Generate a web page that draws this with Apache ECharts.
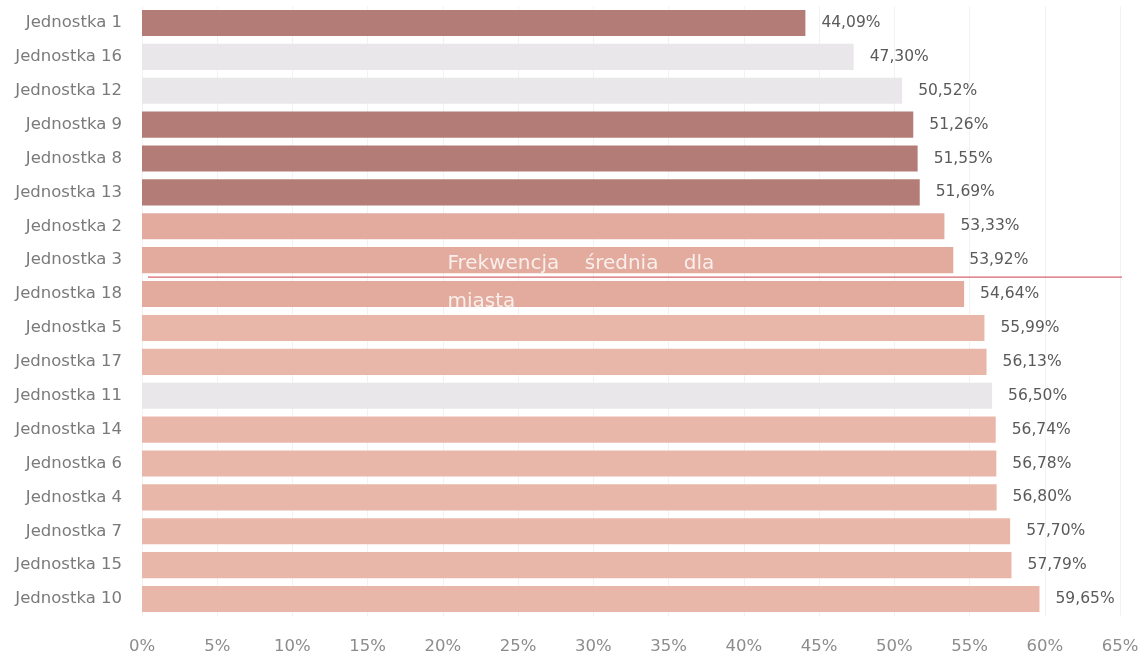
<!DOCTYPE html>
<html>
<head>
<meta charset="utf-8">
<script src="https://cdn.jsdelivr.net/npm/echarts@6/dist/echarts.min.js"></script>
<style>
html,body{margin:0;padding:0;background:#fff;}
#chart{width:1147px;height:659px;}
</style>
</head>
<body>
<div id="chart"></div>
<script>
const categories = ['Jednostka 1','Jednostka 16','Jednostka 12','Jednostka 9','Jednostka 8','Jednostka 13','Jednostka 2','Jednostka 3','Jednostka 18','Jednostka 5','Jednostka 17','Jednostka 11','Jednostka 14','Jednostka 6','Jednostka 4','Jednostka 7','Jednostka 15','Jednostka 10'];
const values = [44.09,47.30,50.52,51.26,51.55,51.69,53.33,53.92,54.64,55.99,56.13,56.50,56.74,56.78,56.80,57.70,57.79,59.65];
const groups = ['dark','gray','gray','dark','dark','dark','mid','mid','mid','light','light','gray','light','light','light','light','light','light'];
const xTicks = [0,5,10,15,20,25,30,35,40,45,50,55,60,65];
// average line drawn at the boundary between "Jednostka 3" and "Jednostka 18" (row scale 0..18)
const averageLine = [[0.4, 8], [65.6, 8]];
const averageLabel = 'Frekwencja    średnia    dla\nmiasta';
const averageLabelAt = [20.3, 8.18];

const groupColors = {dark:'#b47c76', gray:'#eae7eb', mid:'#e2ab9d', light:'#e9b7a9'};
const fmt = v => v.toFixed(2).replace('.', ',') + '%';
const FONT = 'DejaVu Sans';

const chart = echarts.init(document.getElementById('chart'), null, {renderer:'canvas'});
chart.setOption({
  animation:false,
  backgroundColor:'#fff',
  grid:{left:142, right:27, top:6, bottom:43, containLabel:false},
  xAxis:{
    type:'value', min:xTicks[0], max:xTicks[xTicks.length-1], interval:5,
    axisLine:{show:false}, axisTick:{show:false},
    splitLine:{show:true, lineStyle:{color:'#f2f2f2', width:1}},
    axisLabel:{formatter:v=>v+'%', color:'#8c8c8c', fontSize:16.5, fontFamily:FONT, margin:22}
  },
  yAxis:[{
    type:'category', data:categories, inverse:true,
    axisLine:{show:false}, axisTick:{show:false},
    axisLabel:{color:'#7a7a7a', fontSize:16.5, fontFamily:FONT, margin:20}
  },{
    type:'value', min:0, max:categories.length, inverse:true, show:false,
    splitLine:{show:false}
  }],
  series:[{
    type:'bar',
    data:values.map((v,i)=>({value:v, itemStyle:{color:groupColors[groups[i]]}})),
    barCategoryGap:'23%',
    label:{show:true, position:'right', distance:16, formatter:p=>fmt(p.value), color:'#5a5a5a', fontSize:15.5, fontFamily:FONT}
  },{
    type:'line', yAxisIndex:1, data:averageLine, symbol:'none', clip:false, silent:true,
    lineStyle:{color:'#d9646c', width:1.2}, z:5
  },{
    type:'scatter', yAxisIndex:1, data:[averageLabelAt], symbolSize:0, clip:false, silent:true, z:6,
    label:{show:true, position:'right', distance:0, align:'left', verticalAlign:'middle',
      formatter:averageLabel, color:'#ffffff', fontSize:20, fontFamily:FONT, lineHeight:38}
  }]
});
</script>
</body>
</html>
